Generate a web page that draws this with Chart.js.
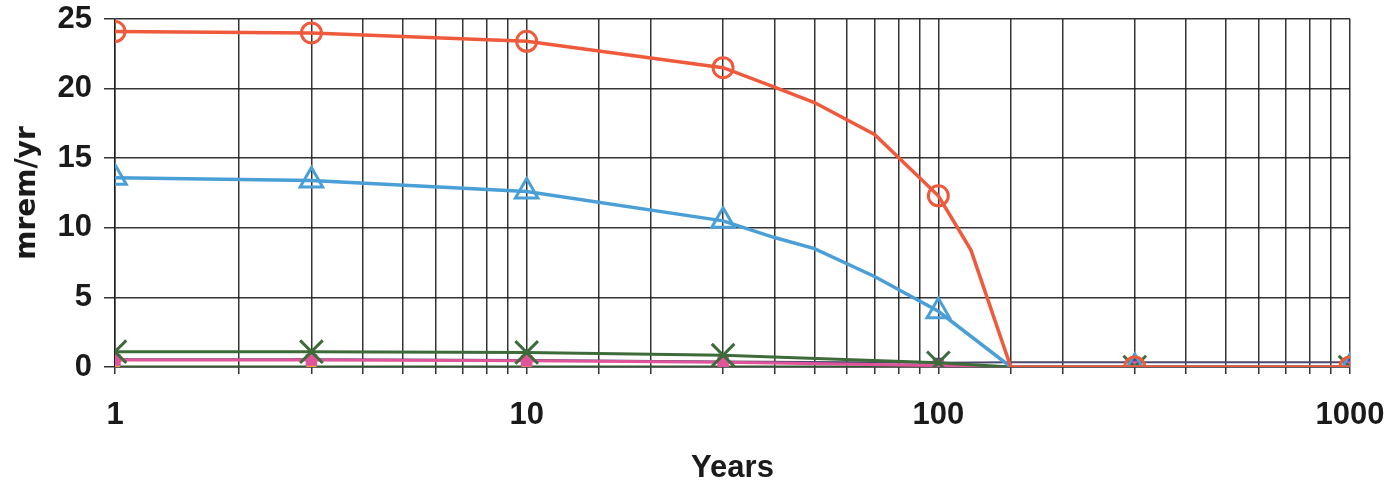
<!DOCTYPE html>
<html>
<head>
<meta charset="utf-8">
<script src="https://cdn.jsdelivr.net/npm/chart.js@4"></script>
<style>
  body { margin: 0; background: #fff; }
</style>
</head>
<body>
<canvas id="doseChart" width="1396" height="487"></canvas>
<script>
// values
const redYears = [1, 3, 10, 30, 40, 50, 70, 100, 120, 150, 300, 1000];
const redDose = [24.1, 24.0, 23.4, 21.5, 20.1, 19.0, 16.7, 12.3, 8.4, 0, 0, 0];

const blueYears = [1, 3, 10, 30, 40, 50, 70, 100, 150, 300, 1000];
const blueDose = [13.6, 13.4, 12.6, 10.5, 9.3, 8.5, 6.5, 4.0, 0, 0, 0];

const lowYears = [1, 3, 10, 30, 100, 150, 300, 1000];
const greenDose = [1.1, 1.1, 1.05, 0.85, 0.3, 0, 0, 0];
const pinkDose = [0.5, 0.5, 0.45, 0.35, 0.1, 0, 0, 0];
const purpleDose = [0.55, 0.55, 0.5, 0.4, 0.3, 0.35, 0.35, 0.35];
const orangeDose = [0.1, 0.1, 0.1, 0.08, 0.05, 0, 0, 0];
const baseDose = [0, 0, 0, 0, 0, 0, 0, 0];

// years that carry a marker
const markedYears = [1, 3, 10, 30, 100, 300, 1000];
const decadeLabels = [1, 10, 100, 1000];

const gridColor = 'rgba(30,30,30,0.9)';

function points(xs, ys) {
  return xs.map((x, i) => ({ x, y: ys[i] }));
}

function markerRadius(r) {
  return ctx => (ctx.raw && markedYears.includes(ctx.raw.x)) ? r : 0;
}

function series(label, xs, ys, color, style, radius, width, fill) {
  return {
    label,
    data: points(xs, ys),
    borderColor: color,
    borderWidth: width,
    pointStyle: style,
    pointRadius: markerRadius(radius),
    pointHoverRadius: 0,
    pointBorderColor: color,
    pointBorderWidth: 3,
    pointBackgroundColor: fill || 'rgba(0,0,0,0)',
    tension: 0
  };
}

const orange = series('orange', lowYears, orangeDose, '#f29a3a', 'triangle', 5, 2, '#f29a3a');
orange.showLine = false;

new Chart(document.getElementById('doseChart'), {
  type: 'line',
  data: {
    datasets: [
      series('red', redYears, redDose, '#ef5a3c', 'circle', 10, 3.5),
      series('blue', blueYears, blueDose, '#4a9fd6', 'triangle', 13, 3.5),
      series('green', lowYears, greenDose, '#3d6b3a', 'crossRot', 16, 3),
      series('pink', lowYears, pinkDose, '#e0559a', 'rect', 6, 3, '#e0559a'),
      series('purple', lowYears, purpleDose, '#4a4a70', 'rect', 5, 2, '#6a3aa0'),
      orange,
      series('base', lowYears, baseDose, '#2f5a2f', 'circle', 0, 3)
    ]
  },
  options: {
    responsive: false,
    animation: false,
    layout: { padding: { top: 19, right: 46, left: 0, bottom: 0 } },
    plugins: {
      legend: { display: false },
      tooltip: { enabled: false }
    },
    scales: {
      x: {
        type: 'logarithmic',
        min: 1,
        max: 1000,
        afterFit: s => {
          s.height = 120;
          s.paddingLeft = 0;
          s.paddingRight = 0;
        },
        grid: { color: gridColor, lineWidth: 1.5, tickLength: 7 },
        border: { color: gridColor, width: 1.5 },
        ticks: {
          autoSkip: false,
          maxRotation: 0,
          padding: 23,
          color: '#1a1a1a',
          font: { family: 'Liberation Sans', size: 31, weight: 'bold' },
          callback: v => decadeLabels.includes(Math.round(v)) && Math.abs(Math.round(v) - v) < 1e-6 ? String(Math.round(v)) : ''
        },
        title: {
          display: true,
          text: 'Years',
          color: '#1a1a1a',
          padding: { top: 0, bottom: 0 },
          font: { family: 'Liberation Sans', size: 31, weight: 'bold' }
        }
      },
      y: {
        min: 0,
        max: 25,
        afterFit: s => {
          s.width = 115;
          s.paddingTop = 0;
          s.paddingBottom = 0;
        },
        grid: { color: gridColor, lineWidth: 1.5, tickLength: 11 },
        border: { color: gridColor, width: 1.5 },
        ticks: {
          stepSize: 5,
          padding: 12,
          color: '#1a1a1a',
          font: { family: 'Liberation Sans', size: 31, weight: 'bold' }
        },
        title: {
          display: true,
          text: 'mrem/yr',
          color: '#1a1a1a',
          padding: { top: 11, bottom: 0 },
          font: { family: 'DejaVu Sans', size: 28, weight: 'bold' }
        }
      }
    }
  }
});
</script>
</body>
</html>
